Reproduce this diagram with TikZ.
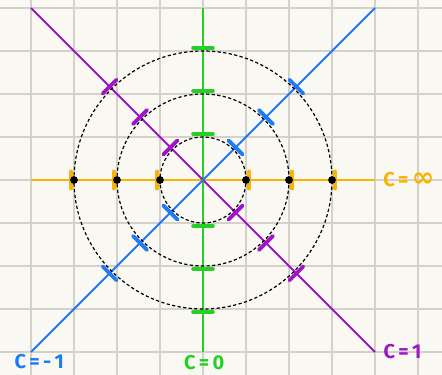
\documentclass[tikz,border=0pt]{standalone}
\usepackage{fontspec}
\setmainfont{Fira Sans}
\newfontfamily\symf{DejaVu Sans}
\definecolor{bgc}{RGB}{250,248,243}
\definecolor{gridc}{RGB}{212,208,202}
\definecolor{orc}{RGB}{247,180,0}
\definecolor{grc}{RGB}{38,206,38}
\definecolor{blc}{RGB}{32,122,244}
\definecolor{puc}{RGB}{156,22,198}
\begin{document}
\begin{tikzpicture}[x=43pt,y=43pt,
  gridline/.style={draw=gridc,line width=1.4pt},
  axisline/.style={line width=2pt},
  lvl/.style={draw=black,line width=1.2pt,dash pattern=on 3.2pt off 2.4pt},
  mytick/.style={line width=3.8pt,line cap=round},
  dotnode/.style={circle,fill=black,inner sep=0pt,minimum size=7.8pt},
  lab/.style={font=\bfseries\fontsize{20}{20}\selectfont,inner sep=0pt}]
\useasboundingbox (-4.7209,-4.5349) rectangle (5.5581,4.1860);
\fill[bgc] (-4.7209,-4.5349) rectangle (5.5581,4.1860);
\foreach \i in {-4,...,5} \draw[gridline] (\i,-4.5349) -- (\i,4.1860);
\foreach \j in {-4,...,4} \draw[gridline] (-4.7209,\j) -- (5.5581,\j);
% axes
\coordinate (O) at (0,0);
\coordinate (hl) at (-4,0); \coordinate (hr) at (4,0);
\coordinate (vt) at (0,4); \coordinate (vb) at (0,-4);
\coordinate (bl) at (-4,-4); \coordinate (tr) at (4,4);
\coordinate (tl) at (-4,4); \coordinate (br) at (4,-4);
\draw[axisline,orc] (hl) -- (hr);
\draw[axisline,grc] (vt) -- (vb);
\draw[axisline,puc] (tl) -- (br);
\draw[axisline,blc] (bl) -- (tr);
% level circles
\foreach \r in {1,2,3} \draw[lvl] (O) circle (\r);
% ticks
\foreach \r in {1,2,3} {
  \pgfmathsetmacro\d{\r+0.07}
  \draw[mytick,grc] (0,\d) ++(-0.23,0) -- ++(0.46,0);
  \draw[mytick,grc] (0,-\d) ++(-0.23,0) -- ++(0.46,0);
  \draw[mytick,orc] (\d,0) ++(0,-0.2) -- ++(0,0.4);
  \draw[mytick,orc] (-\d,0) ++(0,-0.2) -- ++(0,0.4);
  \draw[mytick,puc] (135:\d) ++(45:-0.23) -- ++(45:0.46);
  \draw[mytick,puc] (315:\d) ++(45:-0.23) -- ++(45:0.46);
  \draw[mytick,blc] (45:\d) ++(135:-0.23) -- ++(135:0.46);
  \draw[mytick,blc] (225:\d) ++(135:-0.23) -- ++(135:0.46);
}
% dots
\foreach \r in {1,2,3} {
  \node[dotnode] (dr\r) at (\r,0) {};
  \node[dotnode] (dl\r) at (-\r,0) {};
}
% labels
\node[lab,text=orc,anchor=west] (linf) at (4.19,0) {C\,=\,{\symf\bfseries\fontsize{27}{27}\selectfont ∞}};
\node[lab,text=blc] (lm1) at (-3.81,-4.22) {C\,=\,-\,1};
\node[lab,text=grc] (l0) at (0.03,-4.24) {C\,=\,0};
\node[lab,text=puc] (l1) at (4.64,-3.98) {C\,=\,1};
\end{tikzpicture}
\end{document}
